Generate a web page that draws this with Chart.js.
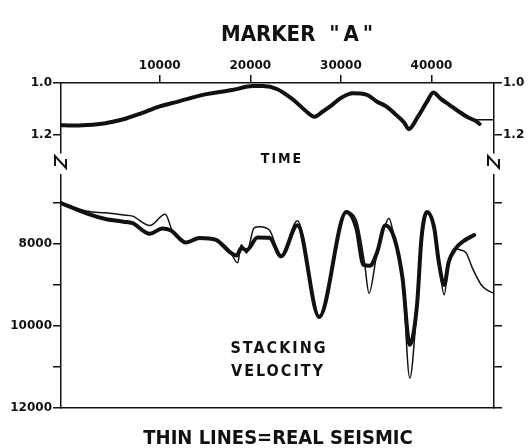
<!DOCTYPE html>
<html lang="en">
<head>
  <meta charset="UTF-8" />
  <title>Marker A - Time and Stacking Velocity</title>
  <script src="https://cdn.jsdelivr.net/npm/chart.js"></script>
  <style>
    body { margin: 0; background: #fff; }
    #wrap { position: relative; width: 530px; height: 448px; overflow: hidden; }
    canvas { position: absolute; left: 0; top: 0; }
    .lbl { position: absolute; transform: translate(-50%, -50%); white-space: nowrap; line-height: 1;
           font-family: "DejaVu Sans Condensed", "DejaVu Sans", sans-serif; font-weight: bold; color: #111; }
  </style>
</head>
<body>
  <div id="wrap">
    <canvas id="timeChart" width="530" height="448"></canvas>
    <canvas id="velChart" width="530" height="448"></canvas>
    <div class="lbl" style="left:297px; top:34px; font-size:22px;">MARKER &nbsp;"&thinsp;A&thinsp;"</div>
    <div class="lbl" style="left:282px; top:158px; font-size:14px; letter-spacing:2px;">TIME</div>
    <div class="lbl" style="left:279px; top:348px; font-size:16px; letter-spacing:2px;">STACKING</div>
    <div class="lbl" style="left:278px; top:371px; font-size:16px; letter-spacing:2px;">VELOCITY</div>
    <div class="lbl" style="left:278px; top:437px; font-size:20px;">THIN LINES=REAL SEISMIC</div>
  </div>

  <script>
    // shared x range (distance along line) and ticks
    const xMin = -900, xMax = 46900;
    const xTicks = [10000, 20000, 30000, 40000];

    // time panel
    const timeTicks = [1.0, 1.2];
    const timeX = [-900, 0, 2000, 4000, 6000, 8000, 10000, 12000, 15000, 18000, 20300, 21400, 23000, 24000, 25000, 26000, 27100, 28000, 29000, 30000, 31300, 32800, 34000, 35000, 36000, 37000, 37500, 38500, 39500, 40200, 41000, 42000, 43000, 44000, 45000, 45300];
    const timeY = [1.163, 1.164, 1.162, 1.155, 1.14, 1.116, 1.09, 1.072, 1.044, 1.027, 1.012, 1.012, 1.024, 1.046, 1.072, 1.104, 1.13, 1.11, 1.085, 1.058, 1.04, 1.045, 1.072, 1.09, 1.12, 1.153, 1.178, 1.13, 1.072, 1.037, 1.06, 1.085, 1.11, 1.132, 1.149, 1.158];
    const timeThinX = [44500, 45300, 46900];
    const timeThinY = [1.14, 1.142, 1.142];

    // stacking velocity panel
    const velTicks = [7000, 8000, 9000, 10000, 11000, 12000];
    const velLabels = [8000, 10000, 12000];
    const velX = [-900, 2000, 4000, 6000, 7000, 8900, 10300, 11200, 12900, 14400, 16200, 17700, 18500, 19000, 19600, 20800, 22100, 23400, 25200, 27600, 30600, 31700, 32500, 33200, 34000, 34900, 35900, 36800, 37600, 38400, 38900, 39500, 40300, 40800, 41400, 41900, 42700, 43400, 44700];
    const velThick = [7000, 7260, 7390, 7455, 7490, 7750, 7620, 7665, 7965, 7855, 7900, 8190, 8280, 8100, 8150, 7840, 7850, 8300, 7540, 9780, 7220, 7610, 8510, 8530, 8200, 7540, 7855, 8830, 10460, 9490, 7850, 7220, 7610, 8430, 9000, 8440, 8100, 7950, 7780];
    const thinX = [-900, 2000, 4000, 6000, 7000, 8900, 10600, 11400, 12900, 14400, 16200, 17700, 18600, 19000, 19600, 20400, 21000, 22100, 23400, 25200, 27600, 30600, 31700, 32600, 33100, 34000, 34900, 35300, 35900, 36800, 37600, 38400, 38900, 39500, 40300, 40800, 41400, 41900, 42700, 43100, 43800, 44500, 45500, 46200, 46900];
    const velThin = [7000, 7200, 7240, 7290, 7320, 7550, 7275, 7680, 7965, 7855, 7900, 8150, 8460, 8020, 8220, 7610, 7580, 7660, 8300, 7430, 9780, 7220, 7415, 8450, 9200, 8200, 7540, 7370, 7855, 8830, 11270, 9490, 7850, 7220, 7610, 8430, 9240, 8440, 8100, 8140, 8210, 8580, 9000, 9130, 9200];

    const ink = '#111';
    const tickFont = { family: '"DejaVu Sans", sans-serif', size: 12, weight: 'bold' };

    function pts(xs, ys) {
      return xs.map((x, i) => ({ x: x, y: ys[i] }));
    }

    function line(data, width) {
      return {
        data: data,
        borderColor: ink,
        borderWidth: width,
        pointRadius: 0,
        fill: false,
        cubicInterpolationMode: 'monotone',
        borderCapStyle: 'round',
        borderJoinStyle: 'round'
      };
    }

    function yAxis(pos, min, max, tickVals, label, width) {
      return {
        type: 'linear',
        position: pos,
        reverse: true,
        min: min,
        max: max,
        afterFit: s => { s.width = width; },
        afterBuildTicks: s => { s.ticks = tickVals.map(v => ({ value: v })); },
        ticks: { color: ink, font: tickFont, padding: 1, callback: label },
        grid: { drawOnChartArea: false, color: ink, lineWidth: 1.5, tickLength: 8 },
        border: { color: ink, width: 1.5 }
      };
    }

    // little "N" break marks under the time panel
    const breakMarks = {
      id: 'breakMarks',
      afterDraw(chart) {
        const { ctx, chartArea: a } = chart;
        ctx.save();
        ctx.strokeStyle = ink;
        ctx.lineWidth = 2;
        [a.left, a.right].forEach(x => {
          ctx.beginPath();
          ctx.moveTo(x - 6, a.bottom + 13);
          ctx.lineTo(x - 6, a.bottom + 3);
          ctx.lineTo(x + 5, a.bottom + 15);
          ctx.lineTo(x + 5, a.bottom + 6);
          ctx.stroke();
        });
        ctx.restore();
      }
    };

    const commonOpts = {
      responsive: false,
      animation: false,
      plugins: { legend: { display: false }, tooltip: { enabled: false } }
    };

    // Time panel
    new Chart(document.getElementById('timeChart'), {
      type: 'line',
      data: { datasets: [line(pts(timeX, timeY), 4), line(pts(timeThinX, timeThinY), 1.5)] },
      options: Object.assign({}, commonOpts, {
        layout: { padding: { left: 0, right: 0, top: 0, bottom: 448 - 153 } },
        scales: {
          x: {
            type: 'linear', position: 'top', min: xMin, max: xMax,
            afterFit: s => { s.height = 83; },
            afterBuildTicks: s => { s.ticks = xTicks.map(v => ({ value: v })); },
            ticks: { color: ink, font: tickFont, padding: 2, callback: v => String(v) },
            grid: { drawOnChartArea: false, color: ink, lineWidth: 1.5, tickLength: 8 },
            border: { color: ink, width: 1.5 }
          },
          y: yAxis('left', 1.0, 1.27, timeTicks, v => v.toFixed(1), 61),
          y2: yAxis('right', 1.0, 1.27, timeTicks, v => v.toFixed(1), 530 - 494)
        }
      }),
      plugins: [breakMarks]
    });

    // Stacking velocity panel
    const velLabel = v => velLabels.includes(v) ? String(v) : '';
    new Chart(document.getElementById('velChart'), {
      type: 'line',
      data: { datasets: [line(pts(velX, velThick), 4), line(pts(thinX, velThin), 1.5)] },
      options: Object.assign({}, commonOpts, {
        layout: { padding: { left: 0, right: 0, top: 175, bottom: 0 } },
        scales: {
          x: {
            type: 'linear', position: 'bottom', min: xMin, max: xMax,
            afterFit: s => { s.height = 40; },
            ticks: { display: false },
            grid: { display: false },
            border: { color: ink, width: 1.5 }
          },
          y: yAxis('left', 6317, 12000, velTicks, velLabel, 61),
          y2: yAxis('right', 6317, 12000, velTicks, () => '', 530 - 494)
        }
      })
    });
  </script>
</body>
</html>
